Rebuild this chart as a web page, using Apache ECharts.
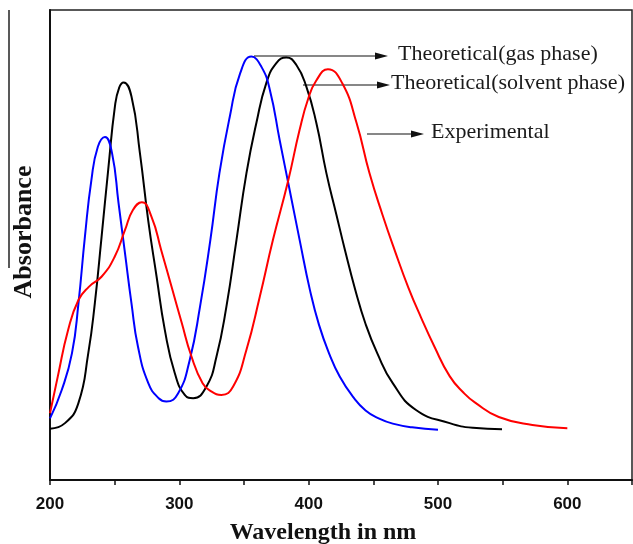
<!DOCTYPE html>
<html>
<head>
<meta charset="utf-8">
<script src="https://cdn.jsdelivr.net/npm/echarts@6/dist/echarts.min.js"></script>
<style>
html,body{margin:0;padding:0;background:#fff;}
#chart{width:633px;height:544px;}
</style>
</head>
<body>
<div id="chart"></div>
<script>
// Wavelength (nm) / absorbance (arb. units) pairs
var gasWavelength = [200,209,217,222,227,232,237,242.5,248,253,258,263,268,276,284,290,299,308,316,324,331,339,347,355.7,363.5,370,377.6,385.3,393,401,408,416,424,434,444,455,465,480,500];
var gasAbsorbance = [0.131,0.191,0.270,0.376,0.518,0.638,0.709,0.730,0.695,0.589,0.482,0.376,0.284,0.206,0.174,0.167,0.184,0.255,0.369,0.511,0.653,0.773,0.865,0.901,0.879,0.830,0.723,0.617,0.511,0.404,0.330,0.268,0.220,0.178,0.148,0.130,0.120,0.112,0.107];

var solventWavelength = [200,211.6,221.9,229.6,234.7,239.9,245,250.2,253.5,256.9,263,269.5,275.9,282.4,288.8,296.5,304.2,310.7,321,328.7,336.4,344.2,351.9,359.6,367.3,375,382.7,390.5,398.2,405.9,413.7,421.4,428,436,444,453,465,483,509,527,549.5];
var solventAbsorbance = [0.109,0.121,0.163,0.270,0.377,0.518,0.660,0.795,0.835,0.846,0.816,0.696,0.553,0.433,0.319,0.227,0.181,0.174,0.199,0.262,0.369,0.511,0.653,0.760,0.845,0.887,0.899,0.883,0.837,0.760,0.653,0.565,0.490,0.405,0.332,0.270,0.206,0.149,0.121,0.111,0.108];

var expWavelength = [200,206,214,222,230,240,250,258,264,271,278.5,286,294,302,309,318,325,332.5,341.6,351.9,362.2,372.4,384,393,399.5,405.9,414.9,426,437,447,457,467,477,487,497,509,520,529,547,573,600];
var expAbsorbance = [0.142,0.220,0.319,0.383,0.411,0.433,0.475,0.532,0.574,0.591,0.560,0.489,0.411,0.333,0.266,0.206,0.188,0.181,0.199,0.277,0.390,0.511,0.635,0.745,0.810,0.850,0.874,0.844,0.760,0.653,0.565,0.485,0.410,0.345,0.285,0.221,0.185,0.164,0.134,0.117,0.110];

var xTicks = [200,300,400,500,600];
var seriesNames = ['Theoretical(gas phase)','Theoretical(solvent phase)','Experimental'];

function zip(xs, ys){ return xs.map(function(x,i){ return [x, ys[i]]; }); }

var serif = "'Liberation Serif','Times New Roman',serif";
var chart = echarts.init(document.getElementById('chart'), null, {renderer:'canvas'});

function arrow(x1, x2, y){
  return [
    {type:'line', shape:{x1:x1,y1:y,x2:x2-10,y2:y}, style:{stroke:'#111',lineWidth:1.2}},
    {type:'polygon', shape:{points:[[x2-13,y-3.5],[x2,y],[x2-13,y+3.5]]}, style:{fill:'#111'}}
  ];
}
var graphics = [].concat(
  arrow(254, 388, 56),
  arrow(303, 390, 85),
  arrow(367, 424, 134),
  [
    {type:'text', left:398, top:43, style:{text:seriesNames[0], font:'22px '+serif, fill:'#1a1a1a'}},
    {type:'text', left:391, top:72, style:{text:seriesNames[1], font:'22px '+serif, fill:'#1a1a1a'}},
    {type:'text', left:431, top:121, style:{text:seriesNames[2], font:'22px '+serif, fill:'#1a1a1a'}},
    {type:'line', shape:{x1:9,y1:10,x2:9,y2:268}, style:{stroke:'#222',lineWidth:1.5}}
  ]
);

var lineCommon = {type:'line', smooth:0.5, showSymbol:false};

chart.setOption({
  animation:false,
  backgroundColor:'#fff',
  grid:{left:50, right:1, top:10, bottom:64, containLabel:false, outerBoundsMode:'none', show:true, borderColor:'#222', borderWidth:1.5},
  xAxis:{
    type:'value', min:200, max:650, interval:50,
    name:'Wavelength in nm', nameLocation:'middle', nameGap:41,
    nameTextStyle:{fontFamily:serif, fontWeight:'bold', fontSize:24, color:'#111', padding:[0,36,0,0]},
    axisLine:{show:true, onZero:false, lineStyle:{color:'#111', width:2}},
    axisTick:{show:true, inside:false, length:5, lineStyle:{color:'#111', width:1.5}},
    axisLabel:{fontFamily:"'Liberation Sans',Arial,sans-serif", fontWeight:'bold', fontSize:17, color:'#111', margin:16,
      formatter:function(v){ return xTicks.indexOf(v) >= 0 ? String(v) : ''; }},
    splitLine:{show:false}
  },
  yAxis:{
    type:'value', min:0, max:1,
    name:'Absorbance', nameLocation:'middle', nameGap:13, nameRotate:90,
    nameTextStyle:{fontFamily:serif, fontWeight:'bold', fontSize:26, color:'#111', padding:[0,0,0,26]},
    axisLine:{show:true, lineStyle:{color:'#111', width:2}},
    axisTick:{show:false}, axisLabel:{show:false}, splitLine:{show:false}
  },
  series:[
    Object.assign({name:seriesNames[1], data:zip(solventWavelength, solventAbsorbance), lineStyle:{color:'#000', width:2}, itemStyle:{color:'#000'}}, lineCommon),
    Object.assign({name:seriesNames[0], data:zip(gasWavelength, gasAbsorbance), lineStyle:{color:'#0000ff', width:2}, itemStyle:{color:'#0000ff'}}, lineCommon),
    Object.assign({name:seriesNames[2], data:zip(expWavelength, expAbsorbance), lineStyle:{color:'#ff0000', width:2}, itemStyle:{color:'#ff0000'}}, lineCommon)
  ],
  graphic:graphics
});
</script>
</body>
</html>
